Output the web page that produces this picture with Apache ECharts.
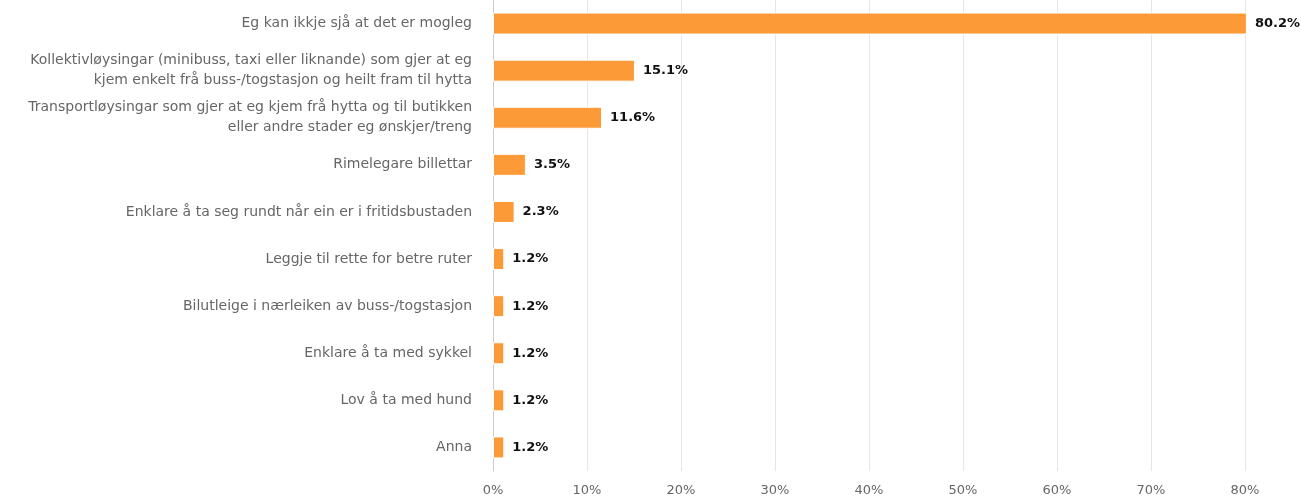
<!DOCTYPE html>
<html>
<head>
<meta charset="utf-8">
<script src="https://cdn.jsdelivr.net/npm/echarts@6/dist/echarts.min.js"></script>
<style>html,body{margin:0;padding:0;background:#fff}#c{width:1301px;height:498px}</style>
</head>
<body>
<div id="c"></div>
<script>
const categories = [
  "Eg kan ikkje sjå at det er mogleg",
  "Kollektivløysingar (minibuss, taxi eller liknande) som gjer at eg\nkjem enkelt frå buss-/togstasjon og heilt fram til hytta",
  "Transportløysingar som gjer at eg kjem frå hytta og til butikken\neller andre stader eg ønskjer/treng",
  "Rimelegare billettar",
  "Enklare å ta seg rundt når ein er i fritidsbustaden",
  "Leggje til rette for betre ruter",
  "Bilutleige i nærleiken av buss-/togstasjon",
  "Enklare å ta med sykkel",
  "Lov å ta med hund",
  "Anna"
];
const values = [80.2, 15.1, 11.6, 3.5, 2.3, 1.2, 1.2, 1.2, 1.2, 1.2];
const xTicks = [0, 10, 20, 30, 40, 50, 60, 70, 80];

const chart = echarts.init(document.getElementById('c'));
chart.setOption({
  animation: false,
  grid: { left: 493, right: 56, top: 0, bottom: 27, containLabel: false },
  xAxis: {
    type: 'value', min: xTicks[0], max: xTicks[xTicks.length - 1], interval: 10,
    axisLine: { show: false }, axisTick: { show: false },
    splitLine: { lineStyle: { color: '#e6e6e6', width: 1 } },
    axisLabel: { formatter: '{value}%', color: '#666', fontSize: 13, fontFamily: 'DejaVu Sans', margin: 13 }
  },
  yAxis: {
    type: 'category', data: categories, inverse: true,
    axisLine: { show: true, lineStyle: { color: '#ccc', width: 1 } },
    axisTick: { show: false },
    axisLabel: { color: '#666', fontSize: 14, fontFamily: 'DejaVu Sans', margin: 21, lineHeight: 20, align: 'right' }
  },
  series: [{
    type: 'bar', data: values, barWidth: 22, clip: false,
    itemStyle: { color: '#fd9a38', borderColor: '#fff', borderWidth: 1 },
    label: {
      show: true, position: 'right', distance: 8,
      formatter: p => p.value.toFixed(1) + '%',
      color: '#111', fontWeight: 'bold', fontSize: 13, fontFamily: 'DejaVu Sans'
    }
  }]
});
</script>
</body>
</html>
